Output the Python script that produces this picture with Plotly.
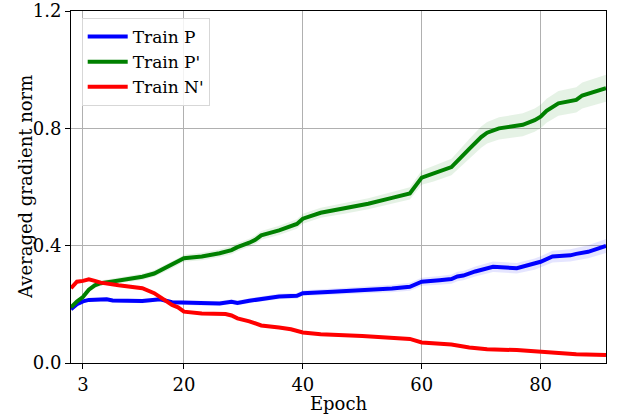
import plotly.graph_objects as go

# ---- data ----
p_epochs = [1, 2, 3, 4, 7, 8, 13, 16, 18, 20, 22, 26, 28, 29, 31, 33, 36, 39, 40, 45, 50, 55, 58, 59, 60, 63, 65, 66, 67, 69, 72, 76, 79, 80, 82, 85, 86, 88, 91]
p_values = [0.183, 0.200, 0.210, 0.215, 0.217, 0.213, 0.211, 0.217, 0.207, 0.206, 0.204, 0.203, 0.209, 0.205, 0.212, 0.219, 0.227, 0.229, 0.238, 0.243, 0.248, 0.254, 0.260, 0.268, 0.277, 0.282, 0.286, 0.295, 0.298, 0.312, 0.328, 0.323, 0.337, 0.345, 0.363, 0.367, 0.372, 0.379, 0.399]
p_spread = [0.006, 0.006, 0.006, 0.006, 0.006, 0.006, 0.007, 0.007, 0.007, 0.007, 0.008, 0.008, 0.008, 0.008, 0.009, 0.009, 0.01, 0.01, 0.01, 0.011, 0.012, 0.013, 0.014, 0.014, 0.014, 0.015, 0.016, 0.016, 0.016, 0.017, 0.018, 0.018, 0.019, 0.019, 0.02, 0.021, 0.021, 0.022, 0.024]

pp_epochs = [1, 2, 3, 4, 5, 6, 8, 10, 13, 15, 16, 18, 19, 20, 23, 26, 28, 29, 31, 32, 33, 36, 39, 40, 43, 47, 51, 55, 58, 60, 62, 65, 68, 70, 71, 73, 77, 79, 80, 81, 83, 86, 87, 89, 91]
pp_values = [0.190, 0.210, 0.225, 0.250, 0.265, 0.272, 0.278, 0.284, 0.294, 0.305, 0.315, 0.335, 0.345, 0.357, 0.363, 0.374, 0.385, 0.395, 0.410, 0.420, 0.435, 0.452, 0.474, 0.492, 0.512, 0.527, 0.543, 0.563, 0.578, 0.632, 0.645, 0.668, 0.730, 0.770, 0.785, 0.800, 0.812, 0.828, 0.840, 0.860, 0.885, 0.897, 0.912, 0.925, 0.937]
pp_spread = [0.008, 0.008, 0.008, 0.009, 0.009, 0.009, 0.01, 0.01, 0.011, 0.011, 0.012, 0.012, 0.012, 0.012, 0.013, 0.013, 0.014, 0.014, 0.014, 0.015, 0.015, 0.016, 0.016, 0.017, 0.017, 0.018, 0.019, 0.02, 0.021, 0.024, 0.026, 0.028, 0.034, 0.036, 0.037, 0.038, 0.039, 0.04, 0.04, 0.041, 0.042, 0.043, 0.044, 0.045, 0.046]

np_epochs = [1, 2, 3, 4, 5, 6, 9, 13, 15, 16, 17, 18, 19, 20, 23, 27, 28, 29, 31, 33, 36, 38, 40, 43, 50, 58, 60, 63, 65, 68, 71, 76, 80, 83, 86, 91]
np_values = [0.255, 0.277, 0.280, 0.285, 0.280, 0.274, 0.265, 0.255, 0.238, 0.225, 0.210, 0.198, 0.190, 0.175, 0.169, 0.167, 0.162, 0.152, 0.142, 0.128, 0.121, 0.115, 0.104, 0.098, 0.092, 0.082, 0.070, 0.067, 0.063, 0.053, 0.047, 0.044, 0.039, 0.032, 0.030, 0.027]
np_spread = [0.004] * len(np_epochs)

x_ticks = [3, 20, 40, 60, 80]
y_ticks = [0.0, 0.4, 0.8, 1.2]

series = [
    ("Train P", p_epochs, p_values, p_spread, "rgb(0,0,255)", "rgba(0,0,255,0.1)"),
    ("Train P'", pp_epochs, pp_values, pp_spread, "rgb(0,128,0)", "rgba(0,128,0,0.1)"),
    ("Train N'", np_epochs, np_values, np_spread, "rgb(255,0,0)", "rgba(255,0,0,0.1)"),
]

fig = go.Figure()
for i, (name, xs, ys, sd, col, fillcol) in enumerate(series):
    upper = [v + s for v, s in zip(ys, sd)]
    lower = [v - s for v, s in zip(ys, sd)]
    fig.add_trace(go.Scatter(x=xs + xs[::-1], y=upper + lower[::-1], fill="toself",
                             fillcolor=fillcol, line=dict(width=0), mode="lines",
                             hoverinfo="skip", showlegend=False))
for i, (name, xs, ys, sd, col, fillcol) in enumerate(series):
    fig.add_trace(go.Scatter(x=xs, y=ys, mode="lines", name=name,
                             line=dict(color=col, width=4), legendgroup=name))

font_family = "DejaVu Serif"
axis_common = dict(showline=True, linecolor="black", linewidth=1, mirror=True,
                   ticks="outside", ticklen=5, tickcolor="black", automargin=False,
                   ticklabeloverflow="allow",
                   showgrid=True, gridcolor="rgb(176,176,176)", gridwidth=1,
                   zeroline=False, tickfont=dict(size=18, color="black", family=font_family))

fig.update_layout(
    width=618, height=414,
    margin=dict(l=71, r=12, t=11, b=51),
    plot_bgcolor="white", paper_bgcolor="white",
    font=dict(family=font_family, color="black"),
    xaxis=dict(range=[1, 91], tickvals=x_ticks, ticktext=[str(t) for t in x_ticks],
               title=dict(text="Epoch", font=dict(size=18), standoff=0), **axis_common),
    yaxis=dict(range=[0, 1.2], tickvals=y_ticks, tickformat=".1f", **axis_common),
    legend=dict(x=0.02, y=0.98, xanchor="left", yanchor="top",
                bgcolor="rgba(255,255,255,0.85)", bordercolor="rgb(215,215,215)", borderwidth=1,
                font=dict(size=17, family=font_family), traceorder="grouped", tracegroupgap=0,
                itemwidth=40),
    showlegend=True,
    annotations=[dict(text="Averaged gradient norm", xref="paper", yref="paper",
                      x=0, y=0.5, xanchor="center", yanchor="middle", xshift=-46,
                      textangle=-90, showarrow=False, font=dict(size=18, family=font_family))],
)

fig.write_html("out.html", config={"displayModeBar": False},
               post_script="document.body.style.margin='0';document.body.style.padding='0';")
